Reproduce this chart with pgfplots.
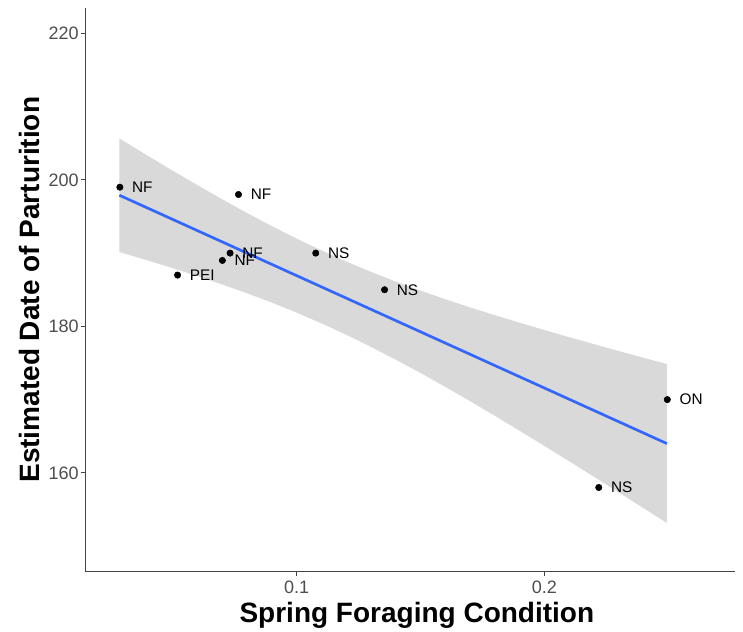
\documentclass[border=0pt]{standalone}
\usepackage{fontspec}
\setmainfont{Liberation Sans}
\usepackage{pgfplots}
\pgfplotsset{compat=1.18}
\definecolor{bandgrey}{HTML}{D9D9D9}
\definecolor{smoothblue}{HTML}{3366FF}
\definecolor{tickgrey}{HTML}{4D4D4D}
\definecolor{axisgrey}{HTML}{444444}
\begin{document}
\begin{tikzpicture}
\useasboundingbox (-64.1pt,-45.2pt) rectangle (493.15pt,428.8pt);
\begin{axis}[
 scale only axis, width=487.1pt, height=423pt,
 xmin=0.0147, xmax=0.2770, ymin=146.5, ymax=223.5,
 axis lines=left, axis line style={-, draw=axisgrey, line width=0.8pt},
 xtick={0.1,0.2}, xticklabels={0.1,0.2},
 ytick={160,180,200,220}, yticklabels={160,180,200,220},
 tick align=outside, major tick length=3pt, tick style={draw=axisgrey, line width=0.8pt},
 ticklabel style={font=\fontsize{13.5}{16}\selectfont, text=tickgrey},
 yticklabel style={xshift=1.5pt},
 xlabel={Spring Foraging Condition}, ylabel={Estimated Date of Parturition},
 label style={font=\bfseries\fontsize{21}{25}\selectfont},
 xlabel style={xshift=5pt},
 clip=false,
]
\addplot[fill=bandgrey, draw=none] coordinates {
 (0.0284,205.65) (0.04,203.26) (0.05,201.24) (0.06,199.27) (0.07,197.33)
 (0.08,195.47) (0.09,193.68) (0.10,191.97) (0.1127,189.95) (0.12,188.86)
 (0.13,187.44) (0.14,186.12) (0.15,184.88) (0.16,183.71) (0.17,182.59)
 (0.18,181.53) (0.19,180.51) (0.20,179.50) (0.21,178.53) (0.22,177.58)
 (0.23,176.64) (0.24,175.72) (0.2495,174.85)
 (0.2495,153.15) (0.24,155.20) (0.23,157.34) (0.22,159.48) (0.21,161.59)
 (0.20,163.68) (0.19,165.75) (0.18,167.79) (0.17,169.79) (0.16,171.74)
 (0.15,173.64) (0.14,175.46) (0.13,177.20) (0.12,178.86) (0.1127,180.01)
 (0.10,181.87) (0.09,183.24) (0.08,184.51) (0.07,185.71) (0.06,186.86)
 (0.05,187.94) (0.04,188.98) (0.0284,190.15)
} -- cycle;
\addplot[smoothblue, line width=2pt] coordinates {(0.0284,197.9) (0.2495,164.0)};
\addplot[only marks, mark=*, mark size=2.4pt, black,
 nodes near coords, point meta=explicit symbolic,
 nodes near coords style={anchor=west, xshift=9pt, inner sep=0pt,
   font=\fontsize{11.5}{13}\selectfont, text=black}]
 table[meta=lab] {
 x y lab
 0.0286 199 NF
 0.0765 198 NF
 0.0519 187 PEI
 0.0731 190 NF
 0.0700 189 NF
 0.1077 190 NS
 0.1355 185 NS
 0.2497 170 ON
 0.2220 158 NS
 };
\end{axis}
\end{tikzpicture}
\end{document}
